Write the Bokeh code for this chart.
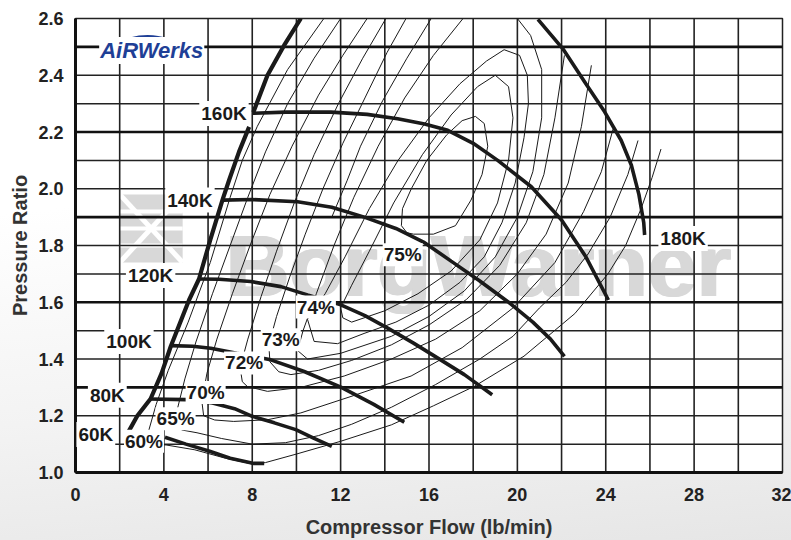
from bokeh.plotting import figure
from bokeh.models import Range1d, FixedTicker, NumeralTickFormatter, Label
from bokeh.embed import file_html
from bokeh.resources import INLINE
from bokeh.core.properties import value

# ---------------- data ----------------
x_ticks = [0, 4, 8, 12, 16, 20, 24, 28, 32]
y_ticks = [1.0, 1.2, 1.4, 1.6, 1.8, 2.0, 2.2, 2.4, 2.6]
grid_x = [2, 4, 6, 8, 10, 12, 14, 16, 18, 20, 22, 24, 26, 28, 30]
grid_y_thin = [1.1, 1.2, 1.4, 1.5, 1.7, 1.8, 2.0, 2.1, 2.3, 2.4]
grid_y_thick = [1.3, 1.6, 1.9, 2.2, 2.5]

# surge line (two segments, broken at the 160K label)
surge1_x = [2.3, 2.8, 3.4, 3.9, 4.31, 5.14, 5.59, 6.1, 6.65, 6.95, 7.4, 7.86]
surge1_y = [1.13, 1.20, 1.26, 1.35, 1.444, 1.608, 1.682, 1.82, 1.96, 2.03, 2.13, 2.218]
surge2_x = [8.05, 8.69, 9.44, 10.2]
surge2_y = [2.27, 2.40, 2.505, 2.6]

# speed lines
spd60_x = [4.05, 5.0, 6.07, 7.0, 8.08, 8.54]
spd60_y = [1.124, 1.10, 1.075, 1.05, 1.032, 1.032]
spd80_x = [3.33, 4.99, 6.2, 7.2, 8.0, 9.0, 9.97, 10.8, 11.6]
spd80_y = [1.259, 1.257, 1.245, 1.225, 1.198, 1.175, 1.151, 1.12, 1.092]
spd100_x = [4.31, 5.3, 6.12, 7.3, 8.84, 10.35, 12.01, 13.5, 14.88]
spd100_y = [1.447, 1.445, 1.438, 1.42, 1.397, 1.356, 1.301, 1.24, 1.177]
spd120_x = [5.59, 6.5, 7.93, 9.3, 10.5, 12.01, 13.1, 14.13, 15.3, 16.4, 17.6, 18.86]
spd120_y = [1.682, 1.681, 1.673, 1.655, 1.626, 1.591, 1.553, 1.509, 1.456, 1.403, 1.345, 1.274]
spd140_x = [6.69, 8.0, 10.05, 11.6, 13.07, 14.5, 15.8, 17.0, 18.3, 19.57, 20.7, 21.5, 22.13]
spd140_y = [1.96, 1.962, 1.954, 1.935, 1.90, 1.86, 1.81, 1.745, 1.675, 1.602, 1.53, 1.47, 1.409]
spd160_x = [8.02, 9.5, 11.56, 13.2, 14.58, 15.8, 16.85, 18.0, 19.11, 20.63, 22.0, 23.1, 24.12]
spd160_y = [2.266, 2.27, 2.27, 2.262, 2.247, 2.228, 2.206, 2.16, 2.10, 2.007, 1.89, 1.76, 1.608]
spd180_x = [20.93, 22.06, 23.1, 23.95, 24.7, 25.16, 25.5, 25.72, 25.76]
spd180_y = [2.597, 2.493, 2.37, 2.271, 2.17, 2.083, 1.98, 1.88, 1.837]

speed_names = ["60K", "80K", "100K", "120K", "140K", "160K", "180K"]
speed_label_x = [0.92, 1.44, 2.42, 3.4, 5.18, 6.72, 27.5]
speed_label_y = [1.134, 1.272, 1.462, 1.694, 1.96, 2.265, 1.825]

# efficiency contours
eff60_x = [11.24, 9.6, 8.23, 7.55, 7.0, 6.1, 5.1, 4.2, 3.65, 3.25, 3.45, 4.1, 5.4, 6.8, 8.0, 8.6,
           10.0, 12.0, 14.3, 16.2, 18.06, 20.3, 22.6, 24.1, 24.9, 25.6, 26.1, 26.5]
eff60_y = [2.6, 2.42, 2.22, 2.1, 1.97, 1.74, 1.53, 1.36, 1.24, 1.13, 1.10, 1.097, 1.08, 1.05, 1.03, 1.035,
           1.065, 1.11, 1.168, 1.235, 1.304, 1.41, 1.56, 1.70, 1.80, 1.93, 2.04, 2.14]
eff65_x = [12.0, 10.8, 9.6, 8.6, 7.8, 7.0, 6.2, 5.45, 4.95, 4.6, 4.55, 4.8, 5.5, 6.6, 8.0, 9.5,
           11.0, 12.5, 14.3, 16.3, 18.3, 19.8, 21.0, 22.2, 23.2, 24.2, 25.0, 25.46]
eff65_y = [2.6, 2.46, 2.3, 2.13, 1.97, 1.80, 1.63, 1.46, 1.33, 1.22, 1.17, 1.15, 1.14, 1.12, 1.10, 1.105,
           1.13, 1.17, 1.23, 1.31, 1.40, 1.48, 1.58, 1.67, 1.77, 1.90, 2.05, 2.17]
eff70_x = [13.2, 12.1, 11.0, 9.8, 8.8, 7.9, 7.1, 6.4, 5.95, 5.72, 5.8, 6.3, 7.16, 8.69, 10.2, 12.47,
           15.19, 17.5, 19.8, 21.7, 23.0, 23.8, 24.33]
eff70_y = [2.6, 2.47, 2.33, 2.15, 1.98, 1.80, 1.63, 1.47, 1.35, 1.25, 1.20, 1.185, 1.18, 1.186, 1.21, 1.268,
           1.34, 1.44, 1.58, 1.74, 1.92, 2.06, 2.21]
eff72_x = [14.05, 13.0, 11.9, 10.8, 9.9, 9.1, 8.4, 7.8, 7.45, 7.55, 7.78, 8.69, 10.2, 12.16, 14.3,
           16.3, 18.3, 20.0, 21.3, 22.3, 22.9, 23.35]
eff72_y = [2.6, 2.46, 2.3, 2.12, 1.95, 1.78, 1.62, 1.47, 1.37, 1.32, 1.303, 1.286, 1.30, 1.34, 1.40,
           1.47, 1.57, 1.70, 1.84, 2.02, 2.22, 2.435]
eff73_x = [14.96, 14.1, 13.1, 12.1, 11.2, 10.4, 9.7, 9.1, 8.75, 8.8, 9.2, 9.75, 11.0, 12.5, 14.3,
           16.0, 17.7, 19.2, 20.4, 21.2, 21.7, 22.13]
eff73_y = [2.6, 2.48, 2.32, 2.16, 2.0, 1.84, 1.69, 1.55, 1.45, 1.39, 1.355, 1.345, 1.36, 1.395, 1.45,
           1.52, 1.61, 1.73, 1.88, 2.05, 2.25, 2.47]
eff735_x = [17.54, 16.2, 14.9, 13.7, 12.6, 11.7, 10.9, 10.3, 10.05, 10.5, 12.0, 14.3, 16.0, 17.6,
            19.0, 20.0, 20.7, 21.1, 21.1, 20.6, 20.0]
eff735_y = [2.6, 2.47, 2.32, 2.15, 1.97, 1.80, 1.63, 1.50, 1.43, 1.40, 1.42, 1.48, 1.55, 1.64,
            1.76, 1.90, 2.06, 2.25, 2.42, 2.54, 2.6]
eff74_x = [10.5, 10.8, 11.86, 13.06, 14.5, 16.0, 17.4, 18.5, 19.3, 19.9, 20.3, 20.5, 20.45, 20.1,
           19.4, 18.6, 17.4, 16.0, 14.6, 13.3, 12.2, 11.3, 10.5]
eff74_y = [1.54, 1.462, 1.454, 1.49, 1.53, 1.59, 1.67, 1.76, 1.88, 2.02, 2.18, 2.30, 2.40, 2.47,
           2.49, 2.45, 2.37, 2.25, 2.10, 1.93, 1.76, 1.63, 1.54]
eff745_x = [12.0, 12.1, 12.5, 14.0, 15.5, 17.0, 18.3, 19.1, 19.6, 19.8, 19.6, 19.0, 18.2, 17.0,
            15.7, 14.4, 13.3, 12.5, 12.0]
eff745_y = [1.58, 1.545, 1.53, 1.57, 1.63, 1.71, 1.82, 1.95, 2.10, 2.25, 2.36, 2.40, 2.36, 2.26,
            2.12, 1.95, 1.78, 1.66, 1.58]
eff75_x = [14.75, 15.0, 15.3, 16.2, 17.2, 17.9, 18.4, 18.66, 18.5, 18.1, 17.5, 16.8, 15.9, 15.2, 14.8, 14.75]
eff75_y = [1.87, 1.845, 1.84, 1.84, 1.87, 1.96, 2.05, 2.15, 2.23, 2.255, 2.24, 2.19, 2.10, 2.00, 1.93, 1.87]
effA_x = [16.1, 15.0, 13.9, 12.9, 12.3, 11.6]
effA_y = [2.6, 2.46, 2.31, 2.15, 2.03, 1.90]

eff_names = ["60%", "65%", "70%", "72%", "73%", "74%", "75%"]
eff_label_x = [3.1, 4.53, 5.89, 7.63, 9.29, 10.88, 14.81]
eff_label_y = [1.11, 1.189, 1.282, 1.386, 1.468, 1.583, 1.767]

# decorations (watermark + logos)
watermark_text = "BorgWarner"
watermark_x, watermark_y = 6.8, 1.731
emblem_left, emblem_right, emblem_bottom, emblem_top = 2.0, 4.85, 1.74, 1.98
emblem_stripes_y = [1.80, 1.86, 1.92]
logo_text = "AiRWerks"
logo_x, logo_y = 3.45, 2.487
swoosh_x0, swoosh_y0, swoosh_cx, swoosh_cy, swoosh_x1, swoosh_y1 = 1.6, 2.505, 3.6, 2.58, 5.0, 2.487

FONT = "Liberation Sans"
INK = "#1a1a1a"
WM = "#d8d8d8"

p = figure(width=791, height=540, output_backend="svg", toolbar_location=None,
           x_range=Range1d(0, 32), y_range=Range1d(1.0, 2.6),
           min_border_left=75, min_border_right=9, min_border_top=18, min_border_bottom=67)
p.xgrid.visible = False
p.ygrid.visible = False
p.background_fill_color = "white"
p.border_fill_color = None
p.styles = {"background": "linear-gradient(175deg, #ffffff 0%, #ffffff 35%, #f3f3f3 70%, #e6e6e6 100%)"}
p.outline_line_color = "#222222"
p.outline_line_width = 1.5

# watermark emblem + text (beneath everything)
p.quad(left=[emblem_left], right=[emblem_right], bottom=[emblem_bottom], top=[emblem_top],
       fill_color=WM, line_color=None)
ns = len(emblem_stripes_y)
p.segment(x0=[emblem_left] * ns, y0=emblem_stripes_y, x1=[emblem_right] * ns, y1=emblem_stripes_y,
          line_color="white", line_width=4)
p.segment(x0=[emblem_left, emblem_left], y0=[emblem_bottom, emblem_top],
          x1=[emblem_right, emblem_right], y1=[emblem_top, emblem_bottom],
          line_color="white", line_width=5)
for dx in (-1.2, 0, 1.2):
    p.text(x=[watermark_x], y=[watermark_y], text=[watermark_text], text_font=value(FONT),
           text_font_style="bold", text_font_size="88px", text_color=WM,
           text_baseline="alphabetic", text_align="left", x_offset=dx)

# grid
n = len(grid_x)
p.segment(x0=grid_x, y0=[y_ticks[0]] * n, x1=grid_x, y1=[y_ticks[-1]] * n,
          line_color="#222222", line_width=1.6)
m = len(grid_y_thin)
p.segment(x0=[x_ticks[0]] * m, y0=grid_y_thin, x1=[x_ticks[-1]] * m, y1=grid_y_thin,
          line_color="#222222", line_width=1.5)
k = len(grid_y_thick)
p.segment(x0=[x_ticks[0]] * k, y0=grid_y_thick, x1=[x_ticks[-1]] * k, y1=grid_y_thick,
          line_color="#111111", line_width=2.6)

# efficiency contours
p.multi_line(xs=[eff60_x, eff65_x, eff70_x, eff72_x, eff73_x, eff735_x, eff74_x, eff745_x, eff75_x, effA_x],
             ys=[eff60_y, eff65_y, eff70_y, eff72_y, eff73_y, eff735_y, eff74_y, eff745_y, eff75_y, effA_y],
             line_color=INK, line_width=1.0)

# speed lines
p.multi_line(xs=[spd60_x, spd80_x, spd100_x, spd120_x, spd140_x, spd160_x, spd180_x],
             ys=[spd60_y, spd80_y, spd100_y, spd120_y, spd140_y, spd160_y, spd180_y],
             line_color=INK, line_width=3.6, line_cap="butt")
# surge line
p.multi_line(xs=[surge1_x, surge2_x], ys=[surge1_y, surge2_y],
             line_color=INK, line_width=4.2, line_cap="butt")

# logo
p.quadratic(x0=[swoosh_x0], y0=[swoosh_y0], x1=[swoosh_x1], y1=[swoosh_y1],
            cx=[swoosh_cx], cy=[swoosh_cy], line_color="#1f3f96", line_width=2)
p.add_layout(Label(x=logo_x, y=logo_y, text=logo_text, text_align="center", text_baseline="middle",
                   text_font=FONT, text_font_style="bold italic", text_font_size="22px",
                   text_color="#1f3f96", background_fill_color="white", padding=1))

for t, lx, ly in zip(speed_names, speed_label_x, speed_label_y):
    p.add_layout(Label(x=lx, y=ly, text=t, text_align="center", text_baseline="middle",
                       text_font=FONT, text_font_style="bold", text_font_size="19px",
                       text_color=INK, background_fill_color="white", padding=2))
for t, lx, ly in zip(eff_names, eff_label_x, eff_label_y):
    p.add_layout(Label(x=lx, y=ly, text=t, text_align="center", text_baseline="middle",
                       text_font=FONT, text_font_style="bold", text_font_size="19px",
                       text_color=INK, background_fill_color="white", padding=1))

# axes
p.xaxis.ticker = FixedTicker(ticks=x_ticks)
p.yaxis.ticker = FixedTicker(ticks=y_ticks)
p.yaxis.formatter = NumeralTickFormatter(format="0.0")
for ax in (p.xaxis, p.yaxis):
    ax.axis_line_width = 3
    ax.axis_line_color = "#111111"
    ax.major_tick_line_color = None
    ax.minor_tick_line_color = None
    ax.major_label_text_font = FONT
    ax.major_label_text_font_style = "bold"
    ax.major_label_text_font_size = "18px"
    ax.major_label_text_color = "#222222"
    ax.axis_label_text_font = FONT
    ax.axis_label_text_font_style = "bold"
    ax.axis_label_text_font_size = "20px"
    ax.axis_label_text_color = "#333333"
p.xaxis.axis_label = "Compressor Flow (lb/min)"
p.yaxis.axis_label = "Pressure Ratio"
p.xaxis.major_label_standoff = 9
p.yaxis.major_label_standoff = 6
p.xaxis.axis_label_standoff = 12
p.yaxis.axis_label_standoff = 4

open("out.html", "w").write(file_html(p, INLINE))
